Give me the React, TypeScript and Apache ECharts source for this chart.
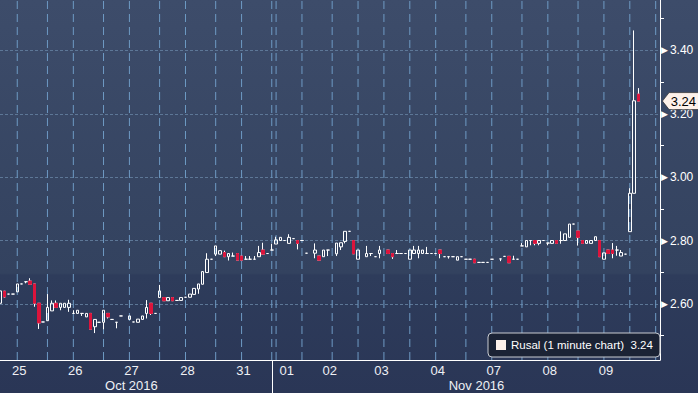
import React, { useEffect, useRef } from "react";
import * as echarts from "echarts";

// One slot per bar; null = no bar in that slot
const opens: (number | null)[] = [
  2.602, 2.640, 2.631, 2.631, 2.638, 2.663, 2.670, 2.672, 2.663, 2.602,
  2.543, 2.547, 2.578, 2.602, 2.589, 2.589, 2.589, 2.570, 2.570, 2.570,
  2.559, 2.570, 2.528, 2.542, 2.542, 2.570, 2.551, 2.542, 2.562, null,
  2.551, 2.543, 2.542, 2.551, 2.570, 2.602, 2.570, 2.620, 2.620, 2.610,
  2.620, 2.611, 2.611, 2.621, 2.621, 2.630, 2.647, 2.662, 2.699, 2.741,
  2.757, 2.757, 2.762, 2.749, 2.751, 2.759, 2.751, 2.741, 2.741, 2.741,
  2.749, 2.770, 2.759, 2.770, 2.789, 2.800, 2.800, 2.791, 2.806, 2.800,
  2.800, 2.760, null, 2.760, 2.751, 2.749, 2.770, null, 2.758, 2.780,
  2.797, 2.829, 2.800, 2.741, null, 2.749, 2.759, 2.749, 2.759, null,
  2.770, 2.759, 2.759, 2.759, 2.759, 2.741, 2.759, 2.759, 2.759, 2.759,
  2.759, 2.759, 2.770, 2.749, 2.749, 2.749, 2.738, 2.749, 2.741, 2.741,
  2.741, 2.731, 2.731, 2.731, 2.741, null, 2.742, 2.750, 2.750, 2.741,
  2.741, 2.783, 2.780, 2.800, 2.800, 2.791, 2.800, 2.792, 2.791, 2.800,
  2.800, 2.800, 2.810, 2.852, 2.830, 2.800, 2.791, 2.791, 2.800, 2.800,
  2.741, 2.770, 2.770, 2.770, 2.751, 2.757, 2.828, 2.949, 3.262, null,
  null, null, null, null,
];
const closes: (number | null)[] = [
  2.641, 2.622, 2.631, 2.631, 2.663, 2.663, 2.670, 2.662, 2.602, 2.540,
  2.543, 2.589, 2.602, 2.589, 2.602, 2.602, 2.602, 2.570, 2.580, 2.570,
  2.570, 2.520, 2.551, 2.542, 2.580, 2.559, 2.551, 2.542, 2.562, null,
  2.562, 2.543, 2.552, 2.562, 2.589, 2.570, 2.570, 2.641, 2.610, 2.620,
  2.610, 2.611, 2.620, 2.621, 2.631, 2.649, 2.663, 2.702, 2.741, 2.741,
  2.783, 2.768, 2.749, 2.759, 2.751, 2.738, 2.738, 2.741, 2.741, 2.741,
  2.762, 2.757, 2.759, 2.770, 2.802, 2.810, 2.800, 2.810, 2.806, 2.791,
  2.800, 2.760, null, 2.770, 2.738, 2.770, 2.770, null, 2.792, 2.793,
  2.829, 2.829, 2.758, 2.770, null, 2.759, 2.759, 2.749, 2.770, null,
  2.759, 2.749, 2.759, 2.759, 2.759, 2.770, 2.770, 2.770, 2.770, 2.759,
  2.759, 2.759, 2.759, 2.749, 2.749, 2.749, 2.749, 2.749, 2.741, 2.741,
  2.730, 2.731, 2.731, 2.731, 2.741, null, 2.742, 2.750, 2.730, 2.741,
  2.741, 2.783, 2.800, 2.800, 2.791, 2.800, 2.800, 2.792, 2.800, 2.791,
  2.800, 2.821, 2.852, 2.852, 2.810, 2.791, 2.800, 2.800, 2.812, 2.749,
  2.761, 2.759, 2.759, 2.770, 2.762, 2.757, 2.949, 3.241, 3.240, null,
  null, null, null, null,
];
const lows: (number | null)[] = [
  2.602, 2.620, 2.631, 2.631, 2.638, 2.663, 2.665, 2.662, 2.591, 2.521,
  2.543, 2.547, 2.578, 2.589, 2.580, 2.589, 2.575, 2.570, 2.570, 2.562,
  2.559, 2.520, 2.508, 2.542, 2.520, 2.554, 2.551, 2.523, 2.562, null,
  2.551, 2.543, 2.542, 2.551, 2.554, 2.565, 2.570, 2.620, 2.610, 2.610,
  2.610, 2.611, 2.611, 2.621, 2.621, 2.630, 2.632, 2.662, 2.699, 2.741,
  2.751, 2.757, 2.749, 2.737, 2.751, 2.738, 2.738, 2.741, 2.741, 2.741,
  2.749, 2.757, 2.759, 2.770, 2.789, 2.800, 2.800, 2.791, 2.806, 2.772,
  2.800, 2.760, null, 2.744, 2.738, 2.749, 2.751, null, 2.751, 2.770,
  2.791, 2.829, 2.758, 2.741, null, 2.749, 2.751, 2.749, 2.744, null,
  2.759, 2.742, 2.759, 2.759, 2.759, 2.741, 2.759, 2.744, 2.759, 2.759,
  2.759, 2.759, 2.744, 2.749, 2.743, 2.749, 2.738, 2.749, 2.741, 2.741,
  2.730, 2.731, 2.731, 2.731, 2.741, null, 2.735, 2.750, 2.730, 2.741,
  2.741, 2.783, 2.780, 2.785, 2.785, 2.785, 2.800, 2.785, 2.791, 2.791,
  2.790, 2.800, 2.810, 2.852, 2.784, 2.791, 2.791, 2.791, 2.800, 2.749,
  2.741, 2.759, 2.744, 2.752, 2.751, 2.757, 2.828, 2.949, 3.240, null,
  null, null, null, null,
];
const highs: (number | null)[] = [
  2.641, 2.641, 2.631, 2.631, 2.663, 2.663, 2.670, 2.681, 2.663, 2.602,
  2.543, 2.631, 2.611, 2.611, 2.602, 2.602, 2.613, 2.580, 2.580, 2.570,
  2.570, 2.570, 2.551, 2.542, 2.580, 2.570, 2.551, 2.542, 2.562, null,
  2.562, 2.543, 2.552, 2.562, 2.612, 2.602, 2.570, 2.660, 2.620, 2.620,
  2.620, 2.611, 2.620, 2.621, 2.631, 2.649, 2.663, 2.702, 2.760, 2.741,
  2.783, 2.768, 2.768, 2.759, 2.762, 2.759, 2.751, 2.751, 2.751, 2.751,
  2.783, 2.793, 2.759, 2.790, 2.812, 2.810, 2.800, 2.820, 2.806, 2.800,
  2.800, 2.760, null, 2.791, 2.751, 2.770, 2.770, null, 2.792, 2.793,
  2.829, 2.829, 2.800, 2.770, null, 2.783, 2.759, 2.749, 2.783, null,
  2.770, 2.759, 2.770, 2.759, 2.759, 2.770, 2.783, 2.783, 2.770, 2.780,
  2.759, 2.759, 2.770, 2.749, 2.749, 2.749, 2.749, 2.749, 2.741, 2.741,
  2.741, 2.731, 2.731, 2.731, 2.741, null, 2.742, 2.750, 2.750, 2.752,
  2.741, 2.792, 2.800, 2.800, 2.800, 2.800, 2.800, 2.792, 2.800, 2.800,
  2.829, 2.821, 2.852, 2.852, 2.830, 2.800, 2.800, 2.800, 2.812, 2.800,
  2.761, 2.770, 2.792, 2.783, 2.770, 2.757, 2.965, 3.463, 3.281, null,
  null, null, null, null,
];

const dayLabels = ["25", "26", "27", "28", "31", "01", "02", "03", "04", "07", "08", "09"];
const dayLabelIdx = [4, 17, 30, 43, 56, 66, 76, 88, 101, 114, 127, 140];
const monthLabels = ["Oct 2016", "Nov 2016"];
const monthLabelIdx = [30, 110];
const monthSepIdx = 63;
const vGridIdx = [4, 11, 17, 24, 30, 37, 43, 50, 56, 63, 64, 70, 77, 83, 89, 95, 101, 108, 114, 121, 127, 134, 140, 146, 152];
const priceLabels = [2.6, 2.8, 3.0, 3.2, 3.4];
const priceMinorTicks = [2.5, 2.7, 2.9, 3.1, 3.3, 3.5];
const seriesName = "Rusal";
const seriesTitle = "Rusal (1 minute chart)";

const Y_MIN = 2.423;
const Y_MAX = 3.559;
const FONT = '"Liberation Sans", Arial, sans-serif';
const UP_BORDER = "#ffffff";
const DOWN = "#dc143c";

export default function App() {
  const ref = useRef<HTMLDivElement>(null);
  useEffect(() => {
    if (!ref.current) return;
    const chart = echarts.init(ref.current, null, { renderer: "svg" });
    const categories = opens.map((_, i) => String(i));
    const candles = opens.map((o, i) =>
      o == null ? "-" : [o, closes[i] as number, lows[i] as number, highs[i] as number]
    );
    const downBodies = opens.map((o, i) => {
      const c = closes[i];
      return o != null && c != null && c < o ? [o, c, c, o] : "-";
    });
    let lastIdx = 0;
    closes.forEach((c, i) => {
      if (c != null) lastIdx = i;
    });
    const lastClose = closes[lastIdx] as number;
    const lastText = lastClose.toFixed(2);

    // vertical time gridlines drawn as a broken line series spanning the axis range
    const vGridData: any[] = [];
    vGridIdx.forEach((i) => {
      vGridData.push([i, Y_MIN], [i, Y_MAX], "-");
    });

    const option: any = {
      animation: false,
      backgroundColor: {
        type: "linear",
        x: 0,
        y: 0,
        x2: 0,
        y2: 1,
        colorStops: [
          { offset: 0, color: "#3d4c6a" },
          { offset: 0.695, color: "#33425f" },
          { offset: 0.70, color: "#2e3c5b" },
          { offset: 1, color: "#2a3656" },
        ],
      },
      grid: { left: -1, top: 0, width: 661, height: 360, containLabel: false },
      legend: {
        show: true,
        left: 488,
        top: 333,
        selectedMode: false,
        backgroundColor: "#1b2335",
        borderColor: "#c9ccd2",
        borderWidth: 1,
        borderRadius: 4,
        padding: [6, 7, 6, 8],
        itemWidth: 10,
        itemHeight: 10,
        textStyle: { color: "#ffffff", fontSize: 11.5, fontFamily: FONT },
        data: [{ name: seriesName, icon: "rect", itemStyle: { color: "#fdf1ea", borderWidth: 0 } }],
        formatter: () => `${seriesTitle}  ${lastText}`,
      },
      xAxis: [
        {
          type: "category",
          data: categories,
          boundaryGap: false,
          gridIndex: 0,
          position: "bottom",
          axisLine: { show: true, lineStyle: { color: "#ffffff", width: 1 } },
          axisTick: {
            show: true,
            interval: (i: number) => i === monthSepIdx,
            length: 33,
            lineStyle: { color: "#ffffff", width: 1 },
          },
          axisLabel: {
            interval: (i: number) => dayLabelIdx.includes(i),
            formatter: (_v: string, i: number) => {
              const j = dayLabelIdx.indexOf(i);
              return j >= 0 ? `{d|${dayLabels[j]}}` : "";
            },
            rich: { d: { color: "#eef0f4", fontSize: 13, fontFamily: FONT, padding: [0, 0, 0, 4] } },
            margin: 4,
          },
          splitLine: { show: false },
        },
        {
          type: "category",
          data: categories,
          boundaryGap: false,
          gridIndex: 0,
          position: "bottom",
          axisLine: { show: false },
          axisTick: { show: false },
          axisLabel: {
            interval: (i: number) => monthLabelIdx.includes(i),
            formatter: (_v: string, i: number) => {
              const j = monthLabelIdx.indexOf(i);
              return j >= 0 ? `{m|${monthLabels[j]}}` : "";
            },
            rich: { m: { color: "#eef0f4", fontSize: 13, fontFamily: FONT, padding: [0, 0, 0, 4] } },
            margin: 19,
          },
          splitLine: { show: false },
        },
      ],
      yAxis: {
        type: "value",
        position: "right",
        min: Y_MIN,
        max: Y_MAX,
        axisLine: { show: true, lineStyle: { color: "#ffffff", width: 1 } },
        axisTick: {
          show: true,
          customValues: priceMinorTicks,
          length: 4,
          lineStyle: { color: "#ffffff", width: 1 },
        },
        axisLabel: {
          show: true,
          customValues: priceLabels,
          margin: 1,
          formatter: (v: number) => `{t|▶}{v|${v.toFixed(2)}}`,
          rich: {
            t: { color: "#ffffff", fontSize: 9, fontFamily: "DejaVu Sans", padding: [0, 2, 0, 0] },
            v: { color: "#ffffff", fontSize: 12, fontFamily: FONT },
          },
        },
        splitLine: { show: false },
      },
      series: [
        {
          name: "grid-v",
          type: "line",
          xAxisIndex: 0,
          yAxisIndex: 0,
          z: 1,
          silent: true,
          showSymbol: false,
          symbol: "none",
          connectNulls: false,
          data: vGridData,
          lineStyle: { color: "#6e9ac4", width: 1, type: [8, 5] },
        },
        {
          name: seriesName,
          type: "candlestick",
          xAxisIndex: 0,
          yAxisIndex: 0,
          barWidth: 3,
          z: 3,
          data: candles,
          itemStyle: {
            color: "rgba(0,0,0,0)",
            color0: DOWN,
            borderColor: UP_BORDER,
            borderColor0: UP_BORDER,
            borderColorDoji: UP_BORDER,
            borderWidth: 1,
          },
          markLine: {
            silent: true,
            z: 1,
            symbol: "none",
            label: { show: false },
            lineStyle: { color: "#5d7797", width: 1, type: [3, 2] },
            data: priceLabels.map((p) => ({ yAxis: p })),
          },
          markPoint: {
            silent: true,
            symbol: "path://M0,9 L7,0 L40,0 L40,18 L7,18 Z",
            symbolSize: [38, 17],
            symbolKeepAspect: false,
            symbolOffset: [43, 0],
            itemStyle: { color: "#fdf1ea", borderColor: "#222", borderWidth: 0.6 },
            label: {
              show: true,
              position: "inside",
              offset: [2, 0],
              formatter: lastText,
              color: "#000000",
              fontSize: 13,
              fontFamily: FONT,
            },
            data: [{ coord: [String(lastIdx), lastClose], value: lastClose }],
          },
        },
        {
          name: seriesName + " down",
          type: "candlestick",
          xAxisIndex: 0,
          yAxisIndex: 0,
          barWidth: 3,
          z: 4,
          data: downBodies,
          itemStyle: {
            color: DOWN,
            color0: DOWN,
            borderColor: DOWN,
            borderColor0: DOWN,
            borderWidth: 1,
          },
        },
      ],
    };
    chart.setOption(option);
    return () => chart.dispose();
  }, []);
  return (
    <div
      ref={ref}
      style={{ position: "fixed", left: 0, top: 0, width: 698, height: 393 }}
    />
  );
}
